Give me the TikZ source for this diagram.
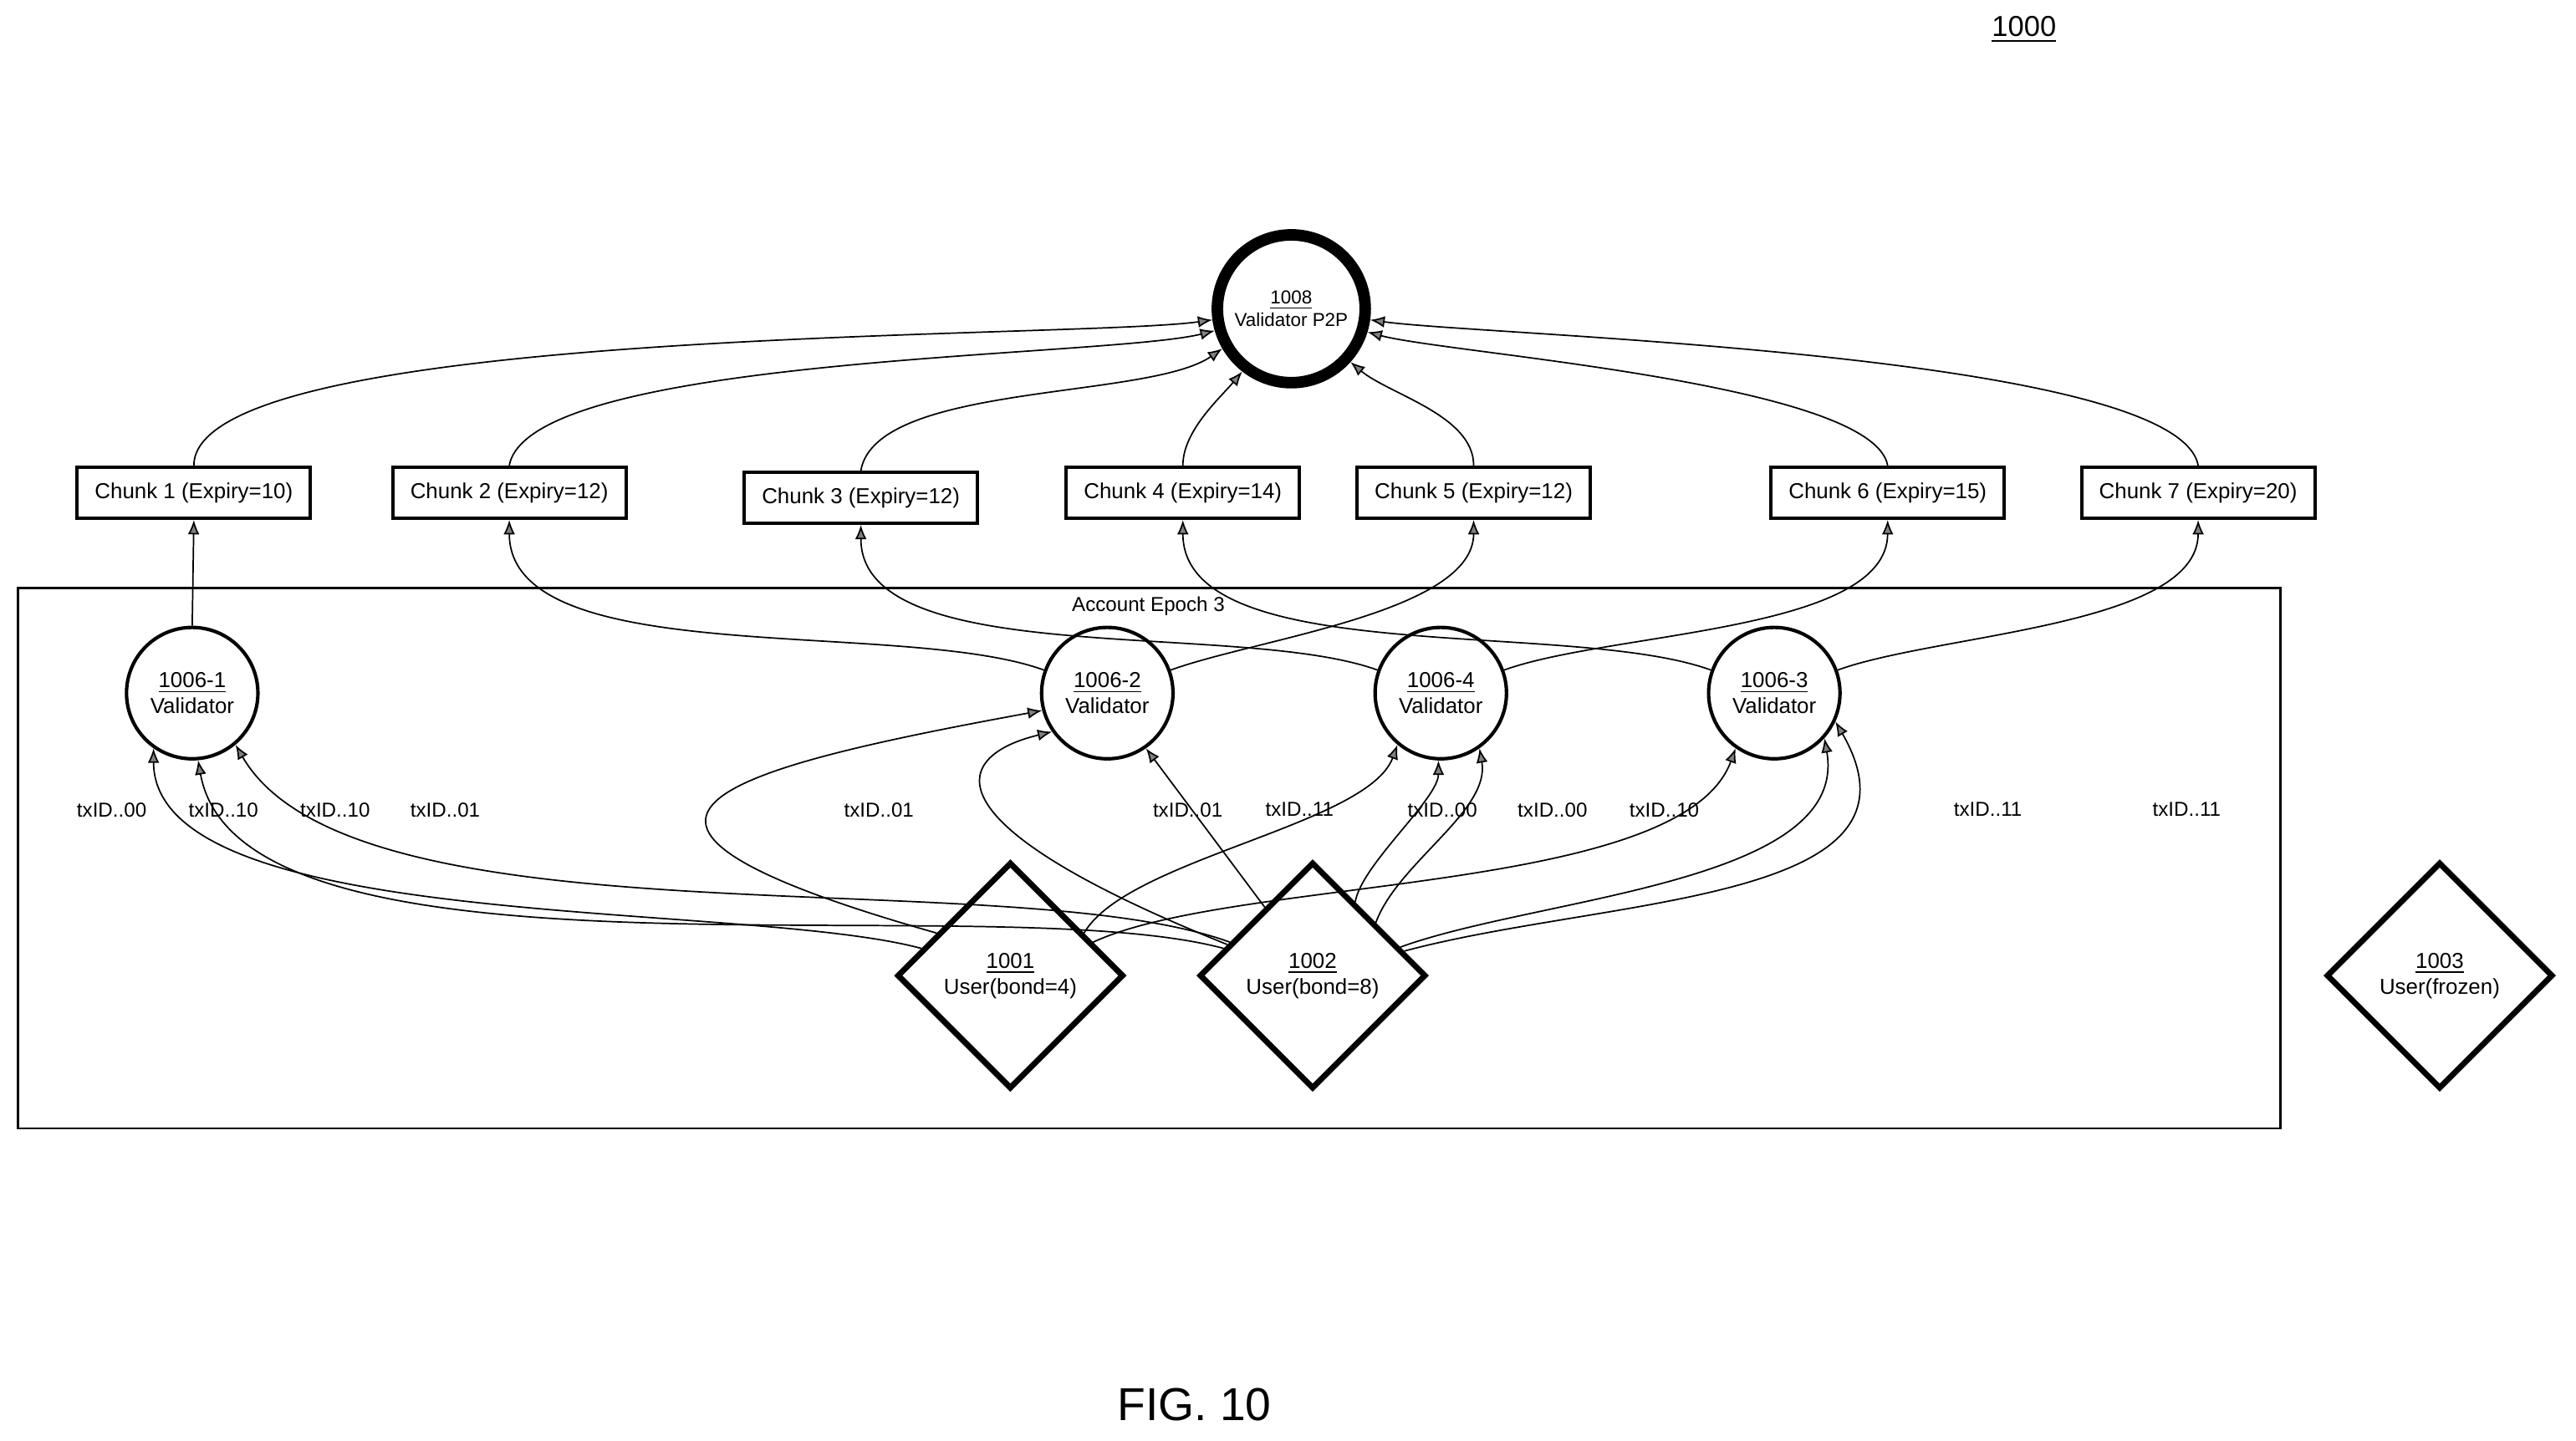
\documentclass[tikz,border=0pt]{standalone}
\usepackage{fontspec}
\setmainfont{Liberation Sans}
\usetikzlibrary{shapes.geometric,arrows.meta}
\tikzset{
    x=0.02cm, y=-0.02cm,
    chunk/.style = {draw, line width=1.2pt, minimum width=2.84cm, minimum height=0.62cm, inner xsep=2pt, font=\fontsize{7.5}{9}\selectfont},
    validator/.style = {draw, circle, line width=1.2pt, minimum size=1.6cm, inner sep=0pt, align=center, font=\fontsize{7.5}{9}\selectfont},
    user/.style = {draw, diamond, line width=2pt, minimum width=2.76cm, minimum height=2.76cm, inner sep=0pt, align=center, font=\fontsize{7.5}{9}\selectfont},
    txid/.style = {font=\fontsize{7}{8}\selectfont},
    link/.style = {draw, line width=0.5pt, -{Latex[length=5pt,width=4pt,fill=gray]}},
}
\begin{document}
\begin{tikzpicture}
    \useasboundingbox (0,0) rectangle (1568,877);
    \node (fignum) at (1232,18) {\underline{1000}};
    \node[draw, circle, line width=4pt, minimum size=1.8cm, inner sep=0pt, align=center, font=\fontsize{6.5}{8}\selectfont] (p2p) at (786,188) {\underline{1008}\\Validator P2P};

    % chunks
    \node[chunk] (c1) at (118,300) {Chunk 1 (Expiry=10)};
    \node[chunk] (c2) at (310,300) {Chunk 2 (Expiry=12)};
    \node[chunk] (c3) at (524,303) {Chunk 3 (Expiry=12)};
    \node[chunk] (c4) at (720,300) {Chunk 4 (Expiry=14)};
    \node[chunk] (c5) at (897,300) {Chunk 5 (Expiry=12)};
    \node[chunk] (c6) at (1149,300) {Chunk 6 (Expiry=15)};
    \node[chunk] (c7) at (1338,300) {Chunk 7 (Expiry=20)};

    % account epoch
    \draw[line width=0.8pt] (11,358) rectangle (1388,687);
    \node[font=\fontsize{7}{8}\selectfont] (epochlbl) at (699,369) {Account Epoch 3};

    \node[validator] (v1) at (117,422) {\underline{1006-1}\\Validator};
    \node[validator] (v2) at (674,422) {\underline{1006-2}\\Validator};
    \node[validator] (v4) at (877,422) {\underline{1006-4}\\Validator};
    \node[validator] (v3) at (1080,422) {\underline{1006-3}\\Validator};

    \node[user] (u1) at (615,594) {\underline{1001}\\User(bond=4)};
    \node[user] (u2) at (799,594) {\underline{1002}\\User(bond=8)};
    \node[user] (u3) at (1485,594) {\underline{1003}\\User(frozen)};

    \foreach \x/\t [count=\i] in {68/00,136/10,204/10,271/01,535/01,723/01,791/11,878/00,945/00,1013/10,1210/11,1331/11}
        \node[txid] (tx\i) at (\x,493) {txID..\t};

    \node[font=\fontsize{16}{18}\selectfont] (figlbl) at (727,855) {FIG. 10};

    % chunks to p2p
    \path[link] (c1.north) to[out=90,in=188,looseness=0.35] (p2p.188);
    \path[link] (c2.north) to[out=80,in=194,looseness=0.4] (p2p.196);
    \path[link] (c3.north) to[out=80,in=215,looseness=0.6] (p2p.210);
    \path[link] (c4.north) to[out=90,in=230,looseness=0.8] (p2p.232);
    \path[link] (c5.north) to[out=90,in=320,looseness=0.8] (p2p.318);
    \path[link] (c6.north) to[out=100,in=345,looseness=0.4] (p2p.343);
    \path[link] (c7.north) to[out=100,in=352,looseness=0.35] (p2p.352);

    % validators to chunks
    \path[link] (v1.north) -- (c1.south);
    \path[link] (v2.160) to[out=160,in=270,looseness=0.7] (c2.south);
    \path[link] (v2.20) to[out=20,in=270,looseness=0.7] (c5.south);
    \path[link] (v4.160) to[out=160,in=270,looseness=0.7] (c3.south);
    \path[link] (v4.20) to[out=20,in=270,looseness=0.7] (c6.south);
    \path[link] (v3.160) to[out=160,in=270,looseness=0.7] (c4.south);
    \path[link] (v3.20) to[out=20,in=270,looseness=0.7] (c7.south);

    % users to validators
    \path[link] (u1.163) to[out=165,in=270,looseness=0.6] (v1.235);
    \path[link] (u2.163) to[out=165,in=280,looseness=0.6] (v1.275);
    \path[link] (u2.158) to[out=160,in=300,looseness=0.6] (v1.310);
    \path[link] (u1.150) .. controls (330,500) and (430,470) .. (v2.195);
    \path[link] (u2.160) .. controls (560,500) and (580,460) .. (v2.215);
    \path[link] (u2.125) -- (v2.305);
    \path[link] (u1.30) to[out=60,in=250,looseness=0.6] (v4.230);
    \path[link] (u2.60) to[out=80,in=270,looseness=0.6] (v4.268);
    \path[link] (u2.40) to[out=70,in=280,looseness=0.8] (v4.305);
    \path[link] (u1.22) to[out=25,in=250,looseness=0.6] (v3.235);
    \path[link] (u2.18) to[out=20,in=280,looseness=0.8] (v3.318);
    \path[link] (u2.15) to[out=15,in=300,looseness=1.1] (v3.335);
\end{tikzpicture}
\end{document}
